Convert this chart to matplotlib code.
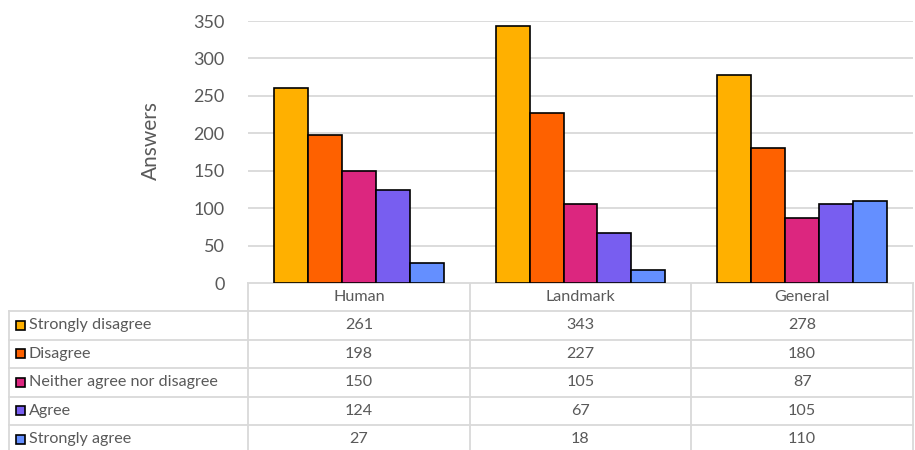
import matplotlib
matplotlib.use("Agg")
import matplotlib.pyplot as plt
import numpy as np

categories = ["Human", "Landmark", "General"]
responses = ["Strongly disagree", "Disagree", "Neither agree nor disagree",
             "Agree", "Strongly agree"]
strongly_disagree = [261, 343, 278]
disagree = [198, 227, 180]
neither = [150, 105, 87]
agree = [124, 67, 105]
strongly_agree = [27, 18, 110]
yticks = [0, 50, 100, 150, 200, 250, 300, 350]

series = [strongly_disagree, disagree, neither, agree, strongly_agree]
colors = ["#FFB000", "#FE6100", "#DC267F", "#785EF0", "#648FFF"]

plt.rcParams["font.family"] = ["Lato", "DejaVu Sans"]
TXT = "#595959"
GRID = "#D9D9D9"

W, H = 915, 450
fig = plt.figure(figsize=(W / 100, H / 100), dpi=100)

# pixel layout of plot area and table
x0, x1 = 248, 913
y_zero, y_top = 283, 21
row_top = 311
row_h = 28.5
tab_left = 9

ax = fig.add_axes([x0 / W, 1 - y_zero / H, (x1 - x0) / W, (y_zero - y_top) / H])
n = len(series)
bw = 0.153
xs = np.arange(len(categories))
for j, (vals, c) in enumerate(zip(series, colors)):
    ax.bar(xs + (j - (n - 1) / 2) * bw, vals, width=bw, color=c,
           edgecolor="black", linewidth=1.2, zorder=3, label=responses[j])
ax.set_xlim(-0.5, len(categories) - 0.5)
ax.set_ylim(0, 350)
ax.set_yticks(yticks)
ax.set_xticks([])
ax.yaxis.grid(True, color=GRID, linewidth=1.3, zorder=0)
for s in ax.spines.values():
    s.set_visible(False)
ax.tick_params(axis="y", length=0, pad=17, labelsize=13, labelcolor=TXT)

# axis title placed in figure pixels
fig.text(151 / W, 1 - 141 / H, "Answers", rotation=90, ha="center",
         va="center", fontsize=15, color=TXT)

# data table beneath the bars, in pixel coordinates
tab = fig.add_axes([0, 0, 1, 1], zorder=-1)
tab.set_xlim(0, W)
tab.set_ylim(H, 0)
tab.axis("off")

ncat = len(categories)
col_w = (x1 - x0) / ncat
n_rows = len(responses)
bottom = row_top + n_rows * row_h
lw = 1.3
tab.plot([x0, x1], [y_zero, y_zero], color=GRID, lw=lw)
for k in range(ncat + 1):
    xv = x0 + k * col_w
    tab.plot([xv, xv], [y_zero, bottom], color=GRID, lw=lw)
tab.plot([tab_left, tab_left], [row_top, bottom], color=GRID, lw=lw)
for r in range(n_rows + 1):
    yv = row_top + r * row_h
    tab.plot([tab_left, x1], [yv, yv], color=GRID, lw=lw)

FS = 11.6
for k, cat in enumerate(categories):
    tab.text(x0 + (k + 0.5) * col_w, (y_zero + row_top) / 2, cat,
             ha="center", va="center", fontsize=FS, color=TXT)

for r, (name, vals, c) in enumerate(zip(responses, series, colors)):
    yc = row_top + (r + 0.5) * row_h
    tab.add_patch(plt.Rectangle((16, yc - 4.5), 9, 9, facecolor=c,
                                edgecolor="black", linewidth=1.2))
    tab.text(29, yc, name, ha="left", va="center", fontsize=FS, color=TXT)
    for k, v in enumerate(vals):
        tab.text(x0 + (k + 0.5) * col_w, yc, str(v), ha="center",
                 va="center", fontsize=FS, color=TXT)

fig.savefig("out.png", dpi=100)
